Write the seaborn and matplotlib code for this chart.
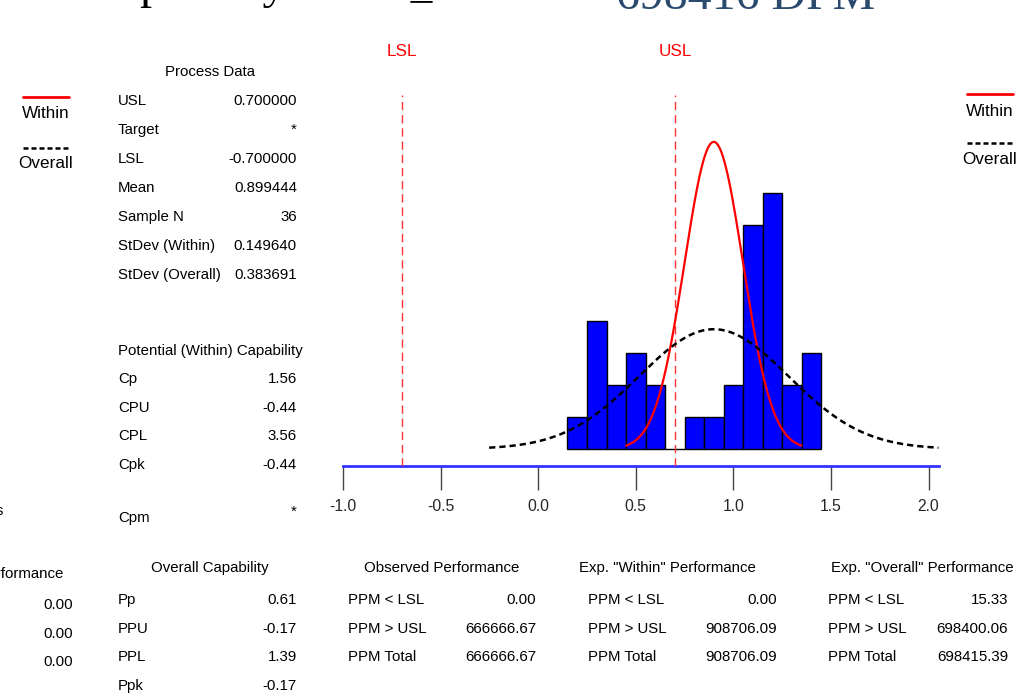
import numpy as np
import pandas as pd
import matplotlib
matplotlib.use("Agg")
import matplotlib.pyplot as plt
import seaborn as sns
from matplotlib import font_manager

# ---------------- data ----------------
bin_centers = [0.2, 0.3, 0.4, 0.5, 0.6, 0.7, 0.8, 0.9, 1.0, 1.1, 1.2, 1.3, 1.4]
bin_counts = [1, 4, 2, 3, 2, 0, 1, 1, 2, 7, 8, 2, 3]
bin_edges = [0.15, 0.25, 0.35, 0.45, 0.55, 0.65, 0.75, 0.85, 0.95, 1.05, 1.15, 1.25, 1.35, 1.45]

LSL = -0.7
USL = 0.7
mean_val = 0.899444
n_samples = 36
sd_within = 0.149640
sd_overall = 0.383691

x_ticks = [-1.0, -0.5, 0.0, 0.5, 1.0, 1.5, 2.0]
x_tick_labels = ["-1.0", "-0.5", "0.0", "0.5", "1.0", "1.5", "2.0"]

process_labels = ["USL", "Target", "LSL", "Mean", "Sample N", "StDev (Within)", "StDev (Overall)"]
process_values = ["0.700000", "*", "-0.700000", "0.899444", "36", "0.149640", "0.383691"]

within_cap_labels = ["Cp", "CPU", "CPL", "Cpk"]
within_cap_values = ["1.56", "-0.44", "3.56", "-0.44"]

overall_cap_labels = ["Pp", "PPU", "PPL", "Ppk"]
overall_cap_values = ["0.61", "-0.17", "1.39", "-0.17"]

ppm_labels = ["PPM < LSL", "PPM > USL", "PPM Total"]
observed_values = ["0.00", "666666.67", "666666.67"]
exp_within_values = ["0.00", "908706.09", "908706.09"]
exp_overall_values = ["15.33", "698400.06", "698415.39"]
left_clipped_values = ["0.00", "0.00", "0.00"]

# ---------------- setup ----------------
W, H = 1029, 695
sns.set_theme(style="white")
try:
    font_manager.findfont("Liberation Sans Narrow", fallback_to_default=False)
    FONT = ["Liberation Sans Narrow", "DejaVu Sans"]
    FS = 12.5
except Exception:
    FONT = ["Liberation Sans", "DejaVu Sans"]
    FS = 10.8
plt.rcParams["font.family"] = FONT

fig = plt.figure(figsize=(W / 100, H / 100), dpi=100)
fig.patch.set_facecolor("white")


def fx(x):
    return x / W


def fy(y):
    return 1 - y / H


def T(x, y, s, ha="left", color="black", size=None, family=None, va="center"):
    fig.text(fx(x), fy(y), s, ha=ha, va=va, color=color,
             fontsize=size if size else FS, family=family if family else FONT)


# ---------------- main axes ----------------
ax_left, ax_right, ax_top, ax_bottom = 343, 939, 95, 466
ax = fig.add_axes([fx(ax_left), fy(ax_bottom), (ax_right - ax_left) / W, (ax_bottom - ax_top) / H])
ax.set_facecolor("white")

df = pd.DataFrame({"center": bin_centers, "count": bin_counts})
sns.histplot(data=df, x="center", weights="count", bins=bin_edges, ax=ax,
             color="#0000FF", edgecolor="black", linewidth=1.0, alpha=1.0, zorder=2)

bw = bin_edges[1] - bin_edges[0]
xw = np.linspace(mean_val - 3 * sd_within, mean_val + 3 * sd_within, 300)
yw = n_samples * bw * np.exp(-0.5 * ((xw - mean_val) / sd_within) ** 2) / (sd_within * np.sqrt(2 * np.pi))
sns.lineplot(x=xw, y=yw, ax=ax, color="#FF0000", linewidth=1.6, zorder=4, sort=False)

xo = np.linspace(mean_val - 3 * sd_overall, mean_val + 3 * sd_overall, 300)
yo = n_samples * bw * np.exp(-0.5 * ((xo - mean_val) / sd_overall) ** 2) / (sd_overall * np.sqrt(2 * np.pi))
ax.plot(xo, yo, color="black", linewidth=1.8, linestyle=(0, (2.5, 1.6)), zorder=4)

for v, lab in [(LSL, "LSL"), (USL, "USL")]:
    ax.axvline(v, color="#FF3333", linewidth=1.0, linestyle=(0, (6, 3.5)), zorder=3)
    ax.text(v, 1.0 + 43 / (ax_bottom - ax_top), lab, transform=ax.get_xaxis_transform(),
            ha="center", va="center", color="#FF0000", fontsize=FS + 1.5, clip_on=False)

ax.set_xlim(-1.0, -1.0 + (ax_right - ax_left) / 195.2)
ax.set_ylim(-17 / 32, (449 - ax_top) / 32)
ax.set_xticks(x_ticks)
ax.set_xticklabels(x_tick_labels)
ax.set_yticks([])
ax.set_xlabel("")
ax.set_ylabel("")
for s in ["top", "left", "right"]:
    ax.spines[s].set_visible(False)
ax.spines["bottom"].set_color("#3333FF")
ax.spines["bottom"].set_linewidth(2)
ax.tick_params(axis="x", direction="out", length=17, width=1, color="#444444",
               pad=7, labelsize=FS + 0.5, bottom=True)

# ---------------- title (clipped at top) ----------------
TITLE_FONT = ["Liberation Serif", "DejaVu Serif"]
T(87, -2, "Capability", size=34.5, family=TITLE_FONT, va="baseline")
T(408, 13, "=", size=34.5, family=TITLE_FONT, va="baseline")
T(616, 9, "698416 DPM", size=34.5, family=TITLE_FONT, va="baseline", color="#2A4B6E")

# ---------------- legends ----------------
for (cx, y_line1, y_txt1, y_line2, y_txt2) in [(46, 97, 113, 148, 164), (990, 94, 111, 143, 160)]:
    fig.add_artist(plt.Line2D([fx(cx - 23), fx(cx + 23)], [fy(y_line1), fy(y_line1)],
                              color="#FF0000", linewidth=2))
    fig.add_artist(plt.Line2D([fx(cx - 23), fx(cx + 23)], [fy(y_line2), fy(y_line2)],
                              color="black", linewidth=1.8, linestyle=(0, (2, 1.2))))
    T(cx, y_txt1, "Within", ha="center", size=FS + 1.5)
    T(cx, y_txt2, "Overall", ha="center", size=FS + 1.5)

# ---------------- Process Data ----------------
LX, RX = 118, 297
T(210, 72, "Process Data", ha="center")
for i, (lab, val) in enumerate(zip(process_labels, process_values)):
    y = 101 + i * 29
    T(LX, y, lab)
    T(RX, y, val, ha="right")

T(LX, 351, "Potential (Within) Capability")
for i, (lab, val) in enumerate(zip(within_cap_labels, within_cap_values)):
    y = 379 + i * 28.7
    T(LX, y, lab)
    T(RX, y, val, ha="right")
T(LX, 518, "Cpm")
T(RX, 512, "*", ha="right")
T(4, 511, "Benchmarks", ha="right")

# ---------------- bottom tables ----------------
HY = 568
ROW0, DR = 600, 28.7
T(210, HY, "Overall Capability", ha="center")
for i, (lab, val) in enumerate(zip(overall_cap_labels, overall_cap_values)):
    y = ROW0 + i * DR
    T(LX, y, lab)
    T(RX, y, val, ha="right")

T(63, HY + 6, "Observed Performance", ha="right")
for i, val in enumerate(left_clipped_values):
    T(73, ROW0 + 5 + i * DR, val, ha="right")

for (hx, lx, rx, title, vals) in [
    (442, 348, 536, "Observed Performance", observed_values),
    (667, 588, 777, 'Exp. "Within" Performance', exp_within_values),
    (922, 828, 1008, 'Exp. "Overall" Performance', exp_overall_values),
]:
    T(hx, HY, title, ha="center")
    for i, (lab, val) in enumerate(zip(ppm_labels, vals)):
        y = ROW0 + i * DR
        T(lx, y, lab)
        T(rx, y, val, ha="right")

fig.savefig("out.png", dpi=100, facecolor="white")
